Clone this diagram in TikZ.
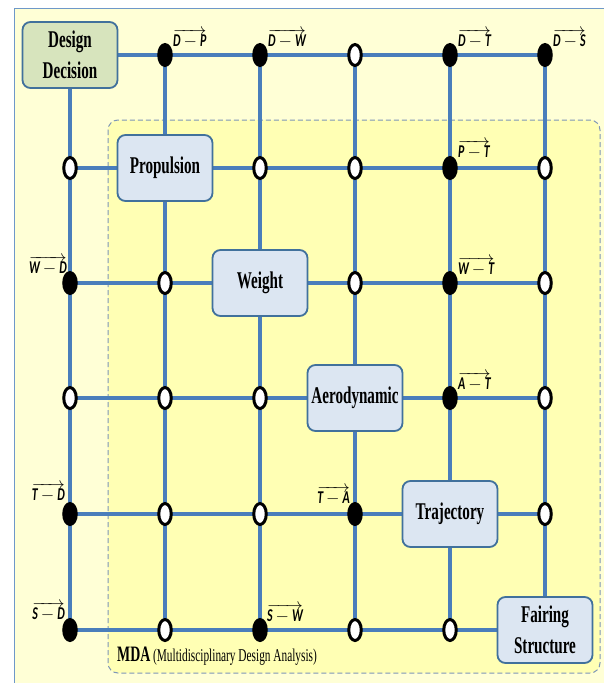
\documentclass[tikz,border=0pt]{standalone}
\usepackage{fontspec}
\usetikzlibrary{shapes.geometric}
\newfontfamily\boxfont{Liberation Serif}[FakeStretch=0.63]
\newfontfamily\lblfont{Carlito}[FakeStretch=0.66]

\definecolor{outerfill}{HTML}{FFFFD6}
\definecolor{innerfill}{HTML}{FFFFB4}
\definecolor{gridblue}{HTML}{4A7EBB}
\definecolor{boxedge}{HTML}{41719C}
\definecolor{boxfill}{HTML}{DCE6F2}
\definecolor{greenfill}{HTML}{D7E4BD}
\definecolor{dashedge}{HTML}{7D96B8}

% vector label such as  D -> P
\newcommand{\vlbl}[2]{$\overrightarrow{\hbox{\lblfont\bfseries\itshape #1\,{\upshape$-$}\,#2}}$}

\begin{document}
\begin{tikzpicture}[x=1pt,y=-1pt,
  discipline/.style={draw=boxedge, line width=1.8pt, fill=boxfill, rounded corners=8pt,
    minimum width=95pt, minimum height=66pt, inner sep=2pt, align=center,
    font=\boxfont\bfseries\fontsize{24}{31}\selectfont},
  decision/.style={discipline, fill=greenfill},
  hline/.style={draw=gridblue, line width=4.2pt},
  vline/.style={draw=gridblue, line width=3.2pt},
  opendot/.style={ellipse, draw=black, line width=3pt, fill=white,
    minimum width=12.5pt, minimum height=21pt, inner sep=0pt},
  fulldot/.style={opendot, fill=black},
  vecR/.style={anchor=base west, inner sep=0pt, font=\fontsize{18}{20}\selectfont},
  vecL/.style={anchor=base east, inner sep=0pt, font=\fontsize{18}{20}\selectfont}]

\useasboundingbox (0,0) rectangle (603,683);

% backgrounds
\fill[white] (0,0) rectangle (603,683);
\draw[fill=outerfill, draw=gridblue!80, line width=1pt] (14,8) rectangle (640,720);
\draw[fill=innerfill, draw=dashedge, line width=1pt, dashed, dash pattern=on 5pt off 3pt,
      rounded corners=10pt] (108,120) rectangle (600,673);

% grid points
\foreach \c/\x in {0/70,1/165,2/260,3/355,4/450,5/545}
  \foreach \r/\y in {0/55,1/168,2/283,3/398,4/514,5/630}
    \coordinate (g\r\c) at (\x,\y);

% grid connectors
\foreach \r in {0,...,5} \draw[hline] (g\r0) -- (g\r5);
\foreach \c in {0,...,5} \draw[vline] (g0\c) -- (g5\c);

% disciplines on the diagonal
\node[decision]    (dd)   at (g00) {Design\\Decision};
\node[discipline]  (prop) at (g11) {Propulsion};
\node[discipline]  (wt)   at (g22) {Weight};
\node[discipline]  (aero) at (g33) {Aerodynamic};
\node[discipline]  (traj) at (g44) {Trajectory};
\node[discipline]  (fair) at (g55) {Fairing\\Structure};

% coupling markers
\foreach \p in {03,10,12,13,15,21,23,25,30,31,32,35,41,42,45,51,53,54}
  \node[opendot] (d\p) at (g\p) {};
\foreach \p in {01,02,04,05,14,20,24,34,40,43,50,52}
  \node[fulldot] (d\p) at (g\p) {};

% coupling labels (yshift is measured upwards)
\node[vecR] (lDP) at ([xshift=8pt,yshift=9pt]g01) {\vlbl{D}{P}};
\node[vecR] (lDW) at ([xshift=8pt,yshift=9pt]g02) {\vlbl{D}{W}};
\node[vecR] (lDT) at ([xshift=8pt,yshift=9pt]g04) {\vlbl{D}{T}};
\node[vecR] (lDS) at ([xshift=8pt,yshift=9pt]g05) {\vlbl{D}{S}};
\node[vecR] (lPT) at ([xshift=8pt,yshift=11pt]g14) {\vlbl{P}{T}};
\node[vecR] (lWT) at ([xshift=8pt,yshift=9pt]g24) {\vlbl{W}{T}};
\node[vecR] (lAT) at ([xshift=8pt,yshift=9pt]g34) {\vlbl{A}{T}};
\node[vecR] (lSW) at ([xshift=7pt,yshift=9pt]g52) {\vlbl{S}{W}};
\node[vecL] (lWD) at ([xshift=-3pt,yshift=10pt]g20) {\vlbl{W}{D}};
\node[vecL] (lTD) at ([xshift=-5pt,yshift=14pt]g40) {\vlbl{T}{D}};
\node[vecL] (lSD) at ([xshift=-5pt,yshift=11pt]g50) {\vlbl{S}{D}};
\node[vecL] (lTA) at ([xshift=-5pt,yshift=11pt]g43) {\vlbl{T}{A}};

% analysis block caption
\node[anchor=base west, inner sep=0pt] (mda) at (117,661)
  {\boxfont\fontsize{18}{20}\selectfont{\bfseries\fontsize{22}{24}\selectfont MDA} (Multidisciplinary Design Analysis)};

\end{tikzpicture}
\end{document}
